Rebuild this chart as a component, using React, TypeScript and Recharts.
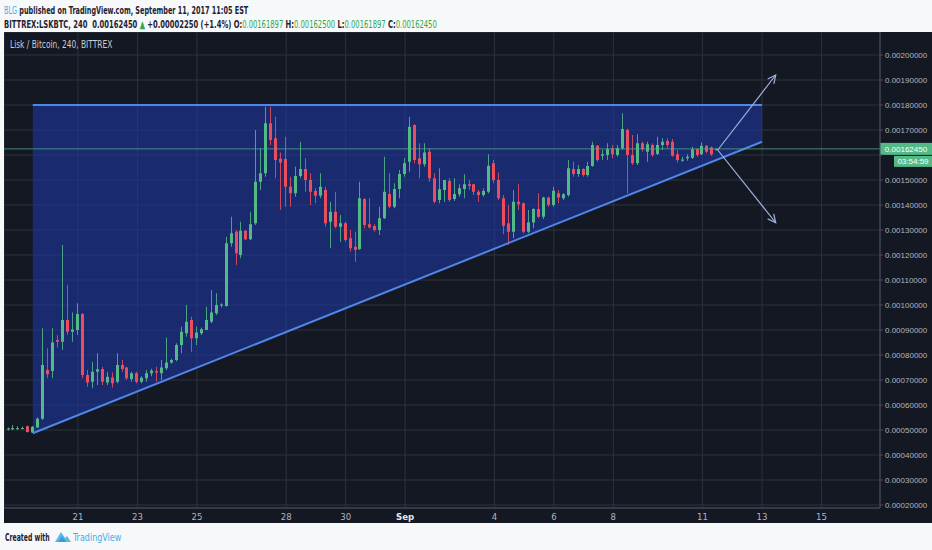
import React from 'react'
import {
  ComposedChart, Bar, Area,
  XAxis, YAxis, CartesianGrid, ReferenceLine,
} from 'recharts'

/*
  LSK/BTC 4h candles (Bittrex) with an ascending triangle drawn over them.
  Prices are kept in units of 1e-5 BTC so the arrays stay readable;
  the axis formatter turns them back into 0.00xxxxxx.
  x is "day of August" (Sep 1 = 32), one candle every 4 hours.
*/

const FIRST_DAY = 18.647
const CANDLES_PER_DAY = 6

const OPEN = [
  50.2, 50.3, 50.6, 50.7, 51.5, 49, 51, 54.5, 74, 73.6,
  86, 85.3, 94, 89.3, 90, 96.4, 72, 69.3, 73.3, 74.4,
  69, 71, 69.3, 76, 75, 70.4, 72.7, 69.3, 70.7, 72.7,
  73.6, 72.7, 74.7, 77, 78, 84, 88.7, 94, 86.7, 88.7,
  90, 93.3, 96.7, 99.8, 99.6, 124.7, 129.3, 120, 129.7, 126.3,
  132.7, 149.3, 152.7, 172.7, 166.7, 158.5, 158.4, 147.3, 144.7, 151.6,
  154.4, 150, 145.6, 143.7, 146, 133.3, 137.3, 131.3, 132.7, 126.7,
  123.3, 122.4, 142.4, 132.3, 131.6, 130, 134.7, 144.4, 139.3, 146.4,
  152.4, 157.3, 172, 158.7, 156.3, 161.3, 150.7, 142, 146, 149.6,
  142.4, 144.3, 146.4, 148.3, 148.3, 145.3, 144, 145.3, 156.7, 150,
  142.7, 132.7, 129.3, 141.3, 140.7, 129.3, 133, 138.4, 135.3, 143,
  140, 144.7, 142.7, 144, 154.4, 152.4, 154.4, 152, 155.6, 163.7,
  159.7, 160, 162.7, 160, 162.7, 170, 160, 156.7, 164.7, 161.3,
  164, 160.4, 164, 165.6, 165.3, 160.3, 157.7, 158.7, 158.9, 162.3,
  160.3, 163.7, 163, 161.897,
]

const HIGH = [
  51, 52, 51.5, 51.4, 51.8, 51.6, 55, 90.7, 82.7, 90.7,
  88, 124, 108, 97, 100.7, 96.8, 74, 77.3, 80.7, 75.3,
  73.3, 73, 80.7, 78, 75.3, 73.3, 73.3, 71.5, 74, 74.5,
  75.3, 78, 87, 78.5, 84.7, 91.3, 100, 95.3, 91.3, 91,
  99.3, 106, 104.7, 100.7, 127.3, 135.3, 130, 133.3, 130, 137.3,
  170, 162.7, 179.3, 179.3, 175.3, 161, 167.3, 151.3, 155.3, 165.3,
  158.7, 152.7, 146.7, 152.7, 147.3, 141.3, 145.3, 136, 133.3, 130,
  129.3, 149.3, 142.7, 142.7, 132.3, 139.3, 159.3, 152.7, 148.7, 154,
  158.7, 175.3, 172.3, 164.7, 164.7, 162.7, 152.7, 154.7, 150, 150.7,
  150.7, 148.3, 152.3, 150, 148.3, 146, 146.7, 160.3, 158, 153,
  144, 140, 146, 148.3, 141, 138, 138.7, 144.7, 143.3, 143.3,
  147.3, 146, 144.7, 158, 157.3, 156, 154.7, 157.3, 165.3, 164,
  162, 164.7, 164, 164, 176.7, 170.5, 168, 168.3, 165.3, 165.3,
  164.7, 167.3, 166.7, 166.7, 166.4, 162, 159.3, 160.3, 163.3, 162.7,
  165, 164, 163.4, 162.5,
]

const LOW = [
  49.8, 50, 50.1, 50.3, 49, 48.8, 50.8, 54, 70.7, 70.7,
  83, 82, 88, 85.3, 88, 70.7, 67.3, 66.7, 68, 68,
  68, 67, 68.7, 73.3, 70, 69.3, 68.7, 68.7, 69.3, 71.5,
  69.3, 70, 74, 76.5, 77.5, 80.7, 87.3, 81.3, 84, 88,
  90, 92.7, 96, 99, 99.3, 123.3, 116, 118.7, 126, 126,
  132, 146, 151.3, 164, 150.7, 138, 139.3, 139.3, 143.3, 150.7,
  145.3, 140, 140.7, 142.7, 131.3, 122.7, 130.7, 125.3, 125.3, 121.3,
  117.3, 122, 130.7, 130.7, 129.3, 128, 134.4, 138.7, 138.7, 142.7,
  151.3, 153.3, 156.7, 150.7, 155.3, 149.3, 140.7, 140.7, 141.3, 141.3,
  141.6, 143.3, 142.7, 146, 144, 141.3, 143.3, 144.7, 148.7, 142,
  128.3, 124, 126.7, 138, 128.7, 128.7, 130.7, 134.7, 134.4, 139.3,
  139.3, 140.7, 142, 143.3, 151.3, 151.3, 151.3, 151.3, 155.3, 157.3,
  158, 158, 158.7, 159.3, 162, 144.7, 156, 156, 161.3, 157.3,
  159.3, 160, 162, 162.7, 159.3, 157, 157.3, 157.7, 158.4, 159.3,
  160, 160.7, 159.7, 161.897,
]

const CLOSE = [
  50.6, 50.8, 50.7, 50.8, 49.2, 51.3, 54.5, 76, 72.3, 85,
  85.3, 94, 89.3, 90.2, 96.4, 72, 69, 73.3, 74.3, 69.3,
  71.3, 68.7, 76, 74.4, 70.7, 72.7, 69.3, 70.9, 72.7, 73.8,
  73, 75, 77, 78, 84, 89.3, 93.3, 86.7, 89, 90.3,
  94, 97, 100, 100.2, 124.7, 128.7, 120.7, 129.7, 126.3, 132.3,
  149.3, 152.7, 172.7, 166, 158, 157, 147.3, 144.7, 151.6, 154.4,
  150, 145.3, 143.7, 147.3, 132.7, 137.3, 131.3, 132.7, 126, 122.7,
  122, 142.7, 132, 131, 130, 134.7, 145.3, 139.3, 146.4, 152.4,
  156.7, 171.3, 158, 156.3, 161, 150.7, 141.3, 146.3, 150, 142,
  144.4, 146.7, 148.3, 147.6, 145.3, 144, 145.6, 155.7, 150, 142.7,
  131.7, 129.3, 141.3, 140.3, 129.3, 133, 138.4, 135.3, 143, 140,
  145.7, 143, 144.3, 154.7, 152.4, 154.4, 152, 155.6, 164, 158,
  160.3, 162.4, 160.3, 162.7, 170.4, 160, 156.7, 164.7, 162.4, 164.3,
  160, 164, 165.3, 164, 159.7, 158, 158.2, 159.3, 162.3, 160,
  163.7, 161.3, 160.2, 162.45,
]

const LAST_PRICE = 162.45
const COUNTDOWN = '03:54:59'

// ascending triangle: flat resistance, rising support
const TRI_DAYS = [19.48, 44]
const TRI_SUPPORT = [48.7, 165.3]
const TRI_RESIST = 180

// breakout / breakdown arrows from the apex
const ARROW_FROM = { x: 42.51, y: 162 }
const ARROW_UP = { x: 44.46, y: 192 }
const ARROW_DOWN = { x: 44.46, y: 132.9 }

const X_TICKS = [21, 23, 25, 28, 30, 32, 35, 37, 39, 42, 44, 46]
const X_LABELS = ['21', '23', '25', '28', '30', 'Sep', '4', '6', '8', '11', '13', '15']
const Y_TICKS = [20, 30, 40, 50, 60, 70, 80, 90, 100, 110, 120, 130, 140, 150, 160, 170, 180, 190, 200]

const X_DOMAIN = [18.513, 47.966]
const Y_DOMAIN = [18.8, 209.2]

const BG = '#141823'
const GRID = '#2e323e'
const AXIS_LINE = '#4a4f5c'
const AXIS_TEXT = '#b2b5be'
const GREEN = '#53b987'
const RED = '#eb4d5c'
const TRI_LINE = '#4f86e8'
const TRI_FILL = 'rgba(30,55,160,0.6)'
const ARROW = '#a3b0dc'
const INK = '#1e2230'
const UP = '#2ea84a'
const NARROW = "'Liberation Sans Narrow', 'DejaVu Sans Condensed', 'Liberation Sans', sans-serif"

const rows: any[] = OPEN.map((o, i) => ({
  t: +(FIRST_DAY + i / CANDLES_PER_DAY).toFixed(4),
  open: o, high: HIGH[i], low: LOW[i], close: CLOSE[i],
  range: [LOW[i], HIGH[i]],
}))
// hang the triangle fill on the candle where it starts, plus one row at its right end
TRI_DAYS.forEach((d, k) => {
  const band = [TRI_SUPPORT[k], TRI_RESIST]
  const hit = rows.find(r => Math.abs(r.t - d) < 0.05)
  if (hit) hit.band = band
  else rows.push({ t: d, band })
})

const fmtPrice = (v: number) => (v / 1e5).toFixed(8)

function Candle(props: any) {
  const { x, y, width, height, payload } = props
  if (!payload || payload.open == null || !isFinite(y)) return <g />
  const { open, close, high, low } = payload
  const px = (v: number) => y + ((high - v) / (high - low)) * height
  const cx = Math.round(x + width / 2) + 0.5
  const top = px(Math.max(open, close))
  const bot = px(Math.min(open, close))
  const color = close >= open ? GREEN : RED
  return (
    <g>
      <line x1={cx} x2={cx} y1={y} y2={y + height} stroke={color} strokeWidth={1} strokeOpacity={0.85} />
      <rect x={cx - 1.5} y={top} width={3} height={Math.max(1, bot - top)} fill={color} />
    </g>
  )
}

function ArrowLine(p: any) {
  const { x1, y1, x2, y2 } = p
  const a = Math.atan2(y2 - y1, x2 - x1)
  const L = 9, s = 0.45
  const h1 = `${x2 - L * Math.cos(a - s)},${y2 - L * Math.sin(a - s)}`
  const h2 = `${x2 - L * Math.cos(a + s)},${y2 - L * Math.sin(a + s)}`
  return (
    <g stroke={ARROW} strokeWidth={1.2} fill="none">
      <line x1={x1} y1={y1} x2={x2} y2={y2} />
      <polyline points={`${h1} ${x2},${y2} ${h2}`} />
    </g>
  )
}

function PriceTag(props: any) {
  const vb = props.viewBox || {}
  const x = vb.x + vb.width
  const y = vb.y
  return (
    <g>
      <rect x={x} y={y - 6} width={52} height={12} fill={GREEN} />
      <text x={x + 26} y={y} dy="0.35em" textAnchor="middle" fontSize={8} fill="#fff"
        fontFamily="'Liberation Sans', sans-serif">{fmtPrice(LAST_PRICE)}</text>
      <rect x={x + 14} y={y + 7} width={38} height={11} fill={GREEN} />
      <text x={x + 33} y={y + 12.5} dy="0.35em" textAnchor="middle" fontSize={8} fill="#fff"
        fontFamily="'Liberation Sans', sans-serif">{COUNTDOWN}</text>
    </g>
  )
}

// price labels; the one under the last-price tag is covered in the original
function PriceTick(props: any) {
  const { x, y, payload } = props
  if (payload.value === 160) return <g />
  return (
    <text x={x} y={y} dy="0.35em" textAnchor="start" fontSize={8} fill={AXIS_TEXT}
      fontFamily="'Liberation Sans', sans-serif">{fmtPrice(payload.value)}</text>
  )
}

function DayTick(props: any) {
  const { x, y, payload } = props
  const idx = X_TICKS.indexOf(payload.value)
  const label = X_LABELS[idx] ?? String(payload.value)
  const isMonth = label === 'Sep'
  return (
    <text x={x} y={y} dy={10} textAnchor="middle" fontSize={9.5} fontFamily={NARROW}
      fill={isMonth ? '#e6e8ee' : AXIS_TEXT} fontWeight={isMonth ? 700 : 400}>
      {label}
    </text>
  )
}

// reference uses a much narrower face than anything installed: squeeze horizontally
function Squeeze({ k, style, children }: { k: number; style: React.CSSProperties; children: React.ReactNode }) {
  return (
    <div style={{
      position: 'absolute', whiteSpace: 'nowrap', transform: `scaleX(${k})`, transformOrigin: '0 50%',
      ...style,
    }}>{children}</div>
  )
}

const headFont: React.CSSProperties = {
  fontFamily: NARROW, fontSize: 11, fontWeight: 700, lineHeight: '14px', color: INK,
}

export default function App() {
  return (
    <div style={{
      position: 'absolute', left: 0, top: 0, width: 932, height: 550,
      background: '#f7f8fa', overflow: 'hidden',
    }}>
      {/* header */}
      <Squeeze k={0.655} style={{ ...headFont, left: 4, top: 4 }}>
        <span style={{ color: '#3bb3e4', fontWeight: 400 }}>BLG</span>
        {' published on TradingView.com, September 11, 2017 11:05 EST'}
      </Squeeze>
      <Squeeze k={0.687} style={{ ...headFont, left: 4, top: 18 }}>
        {'BITTREX:LSKBTC, 240 \u00a00.00162450 '}
        <span style={{ color: UP }}>▲</span>
        {' +0.00002250 (+1.4%) O:'}
        <span style={{ color: UP, fontWeight: 400 }}>0.00161897</span>
        {' H:'}
        <span style={{ color: UP, fontWeight: 400 }}>0.00162500</span>
        {' L:'}
        <span style={{ color: UP, fontWeight: 400 }}>0.00161897</span>
        {' C:'}
        <span style={{ color: UP, fontWeight: 400 }}>0.00162450</span>
      </Squeeze>

      {/* chart panel */}
      <div style={{ position: 'absolute', left: 4, top: 32, width: 928, height: 491, background: BG }}>
        <ComposedChart width={928} height={491} data={rows} margin={{ top: 0, right: 0, left: 0, bottom: 0 }}>
          <CartesianGrid stroke={GRID} strokeWidth={1} />
          <XAxis dataKey="t" type="number" domain={X_DOMAIN} ticks={X_TICKS} interval={0}
            allowDataOverflow height={15} tickLine={false} tickSize={0} tickMargin={2}
            axisLine={{ stroke: AXIS_LINE }} tick={<DayTick />} />
          <YAxis orientation="right" domain={Y_DOMAIN} ticks={Y_TICKS} interval={0}
            allowDataOverflow width={52} tickSize={3} tickMargin={2}
            axisLine={{ stroke: AXIS_LINE }} tickLine={{ stroke: AXIS_LINE }}
            tick={<PriceTick />} />

          <Area dataKey="band" type="linear" connectNulls stroke="none" fill={TRI_FILL}
            fillOpacity={1} isAnimationActive={false} dot={false} activeDot={false} />

          <Bar dataKey="range" barSize={4} shape={(p: any) => <Candle {...p} />} isAnimationActive={false} />

          <ReferenceLine segment={[{ x: TRI_DAYS[0], y: TRI_RESIST }, { x: TRI_DAYS[1], y: TRI_RESIST }]}
            stroke={TRI_LINE} strokeWidth={2} />
          <ReferenceLine segment={[{ x: TRI_DAYS[0], y: TRI_SUPPORT[0] }, { x: TRI_DAYS[1], y: TRI_SUPPORT[1] }]}
            stroke={TRI_LINE} strokeWidth={2} />

          <ReferenceLine y={LAST_PRICE} stroke={GREEN} strokeWidth={1} strokeOpacity={0.7}
            label={<PriceTag />} />

          <ReferenceLine segment={[ARROW_FROM, ARROW_UP]} shape={(p: any) => <ArrowLine {...p} />} />
          <ReferenceLine segment={[ARROW_FROM, ARROW_DOWN]} shape={(p: any) => <ArrowLine {...p} />} />
        </ComposedChart>

        <Squeeze k={0.79} style={{
          left: 6, top: 6, fontFamily: NARROW, fontSize: 10.5, lineHeight: '13px', color: '#c9ccd4',
        }}>
          Lisk / Bitcoin, 240, BITTREX
        </Squeeze>
      </div>

      {/* footer */}
      <Squeeze k={0.65} style={{ ...headFont, left: 5, top: 530, fontSize: 10.5 }}>
        Created with
      </Squeeze>
      <svg width={18} height={14} style={{ position: 'absolute', left: 54, top: 530 }}>
        <path d="M1 12 L7 2 L11 8 L13 6 L17 12 Z" fill="#5db8e8" />
        <path d="M4 12 L8 6 L12 12 Z" fill="#2f9fd9" />
      </svg>
      <Squeeze k={0.85} style={{
        left: 73, top: 530, fontFamily: NARROW, fontSize: 10.5, lineHeight: '14px', color: '#45ade3',
      }}>
        TradingView
      </Squeeze>
    </div>
  )
}
